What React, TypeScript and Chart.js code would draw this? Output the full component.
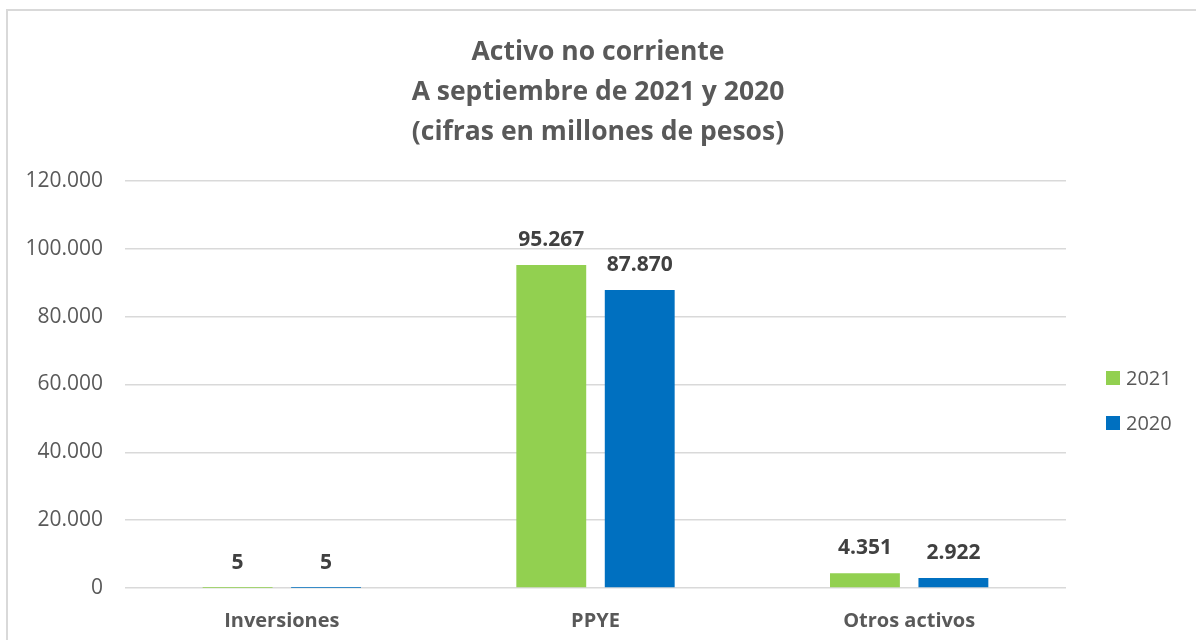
import React, { useEffect, useRef } from "react";
import { Chart, registerables } from "chart.js";

Chart.register(...registerables);

const titleLines = [
  "Activo no corriente",
  "A septiembre de 2021 y 2020",
  "(cifras en millones de pesos)",
];
const categories = ["Inversiones", "PPYE", "Otros activos"];
const values2021 = [5, 95267, 4351];
const values2020 = [5, 87870, 2922];
const seriesLabels = ["2021", "2020"];
const seriesColors = ["#92D050", "#0070C0"];
const yMin = 0;
const yMax = 120000;
const yStep = 20000;

const FONT = "'Open Sans', 'DejaVu Sans', sans-serif";

const fmt = (v: number) =>
  String(Math.round(v)).replace(/\B(?=(\d{3})+(?!\d))/g, ".");

const dataLabelPlugin = {
  id: "dataLabels",
  afterDatasetsDraw(chart: any) {
    const ctx = chart.ctx;
    ctx.save();
    ctx.font = `bold 21px ${FONT}`;
    ctx.fillStyle = "#404040";
    ctx.textAlign = "center";
    ctx.textBaseline = "middle";
    chart.data.datasets.forEach((ds: any, i: number) => {
      const meta = chart.getDatasetMeta(i);
      meta.data.forEach((bar: any, j: number) => {
        ctx.fillText(fmt(ds.data[j]), bar.x, bar.y - 25);
      });
    });
    ctx.restore();
  },
};

const sideLegendPlugin = {
  id: "sideLegend",
  afterDraw(chart: any) {
    const ctx = chart.ctx;
    const area = chart.chartArea;
    ctx.save();
    ctx.font = `20px ${FONT}`;
    ctx.textBaseline = "middle";
    ctx.textAlign = "left";
    const x = area.right + 40;
    const startY = 378;
    chart.data.datasets.forEach((ds: any, i: number) => {
      const y = startY + i * 45;
      ctx.fillStyle = ds.backgroundColor;
      ctx.fillRect(x, y - 7, 14, 14);
      ctx.fillStyle = "#595959";
      ctx.fillText(ds.label, x + 20, y + 1);
    });
    ctx.restore();
  },
};

export default function App() {
  const canvasRef = useRef<HTMLCanvasElement | null>(null);

  useEffect(() => {
    if (!canvasRef.current) return;
    const chart = new Chart(canvasRef.current, {
      type: "bar",
      data: {
        labels: categories,
        datasets: [
          {
            label: seriesLabels[0],
            data: values2021,
            backgroundColor: seriesColors[0],
            categoryPercentage: 0.564,
            barPercentage: 0.79,
          },
          {
            label: seriesLabels[1],
            data: values2020,
            backgroundColor: seriesColors[1],
            categoryPercentage: 0.564,
            barPercentage: 0.79,
          },
        ],
      },
      options: {
        animation: false,
        responsive: true,
        maintainAspectRatio: false,
        layout: { padding: { top: 0, left: 0, right: 0, bottom: -14 } },
        plugins: {
          legend: { display: false },
          tooltip: { enabled: false },
          title: {
            display: true,
            text: titleLines,
            color: "#595959",
            font: { family: FONT, size: 26.5, weight: "bold", lineHeight: 40 / 26.5 },
            padding: { top: 32, bottom: 29 },
          },
        },
        scales: {
          x: {
            grid: { display: false, drawTicks: false },
            border: { display: false },
            ticks: {
              color: "#595959",
              font: { family: FONT, size: 20, weight: "bold" },
              padding: 21,
            },
          },
          y: {
            min: yMin,
            max: yMax,
            grid: { color: "#d9d9d9", lineWidth: 1.5, drawTicks: false },
            border: { display: false },
            afterFit: (scale: any) => {
              scale.width = 125;
            },
            ticks: {
              stepSize: yStep,
              color: "#595959",
              font: { family: FONT, size: 21 },
              padding: 22,
              callback: (v: any) => fmt(Number(v)),
            },
          },
          legendSpace: {
            type: "linear",
            position: "right",
            min: yMin,
            max: yMax,
            grid: { display: false, drawTicks: false },
            border: { display: false },
            ticks: { display: false },
            afterFit: (scale: any) => {
              scale.width = 130;
            },
          },
        },
      },
      plugins: [dataLabelPlugin, sideLegendPlugin],
    });
    return () => chart.destroy();
  }, []);

  return (
    <div
      style={{
        position: "fixed",
        left: 0,
        top: 0,
        width: 1196,
        height: 640,
        overflow: "hidden",
        background: "#ffffff",
      }}
    >
      <div
        style={{
          position: "absolute",
          left: 6,
          top: 9,
          width: 1300,
          height: 800,
          border: "2px solid #d9d9d9",
          boxSizing: "border-box",
        }}
      />
      <div style={{ position: "absolute", left: 0, top: 0, width: 1196, height: 640 }}>
        <canvas ref={canvasRef} />
      </div>
    </div>
  );
}
